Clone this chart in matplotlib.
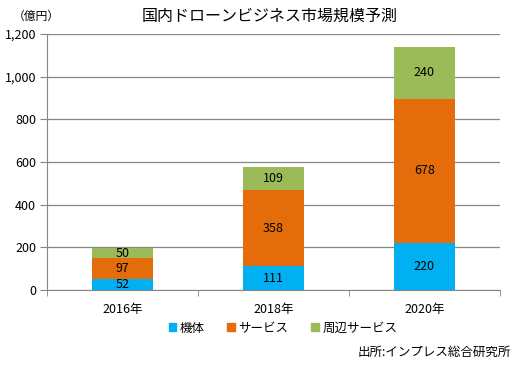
import matplotlib
matplotlib.use("Agg")
import matplotlib.pyplot as plt
from matplotlib.patches import Patch
from matplotlib.ticker import FuncFormatter

plt.rcParams['font.family'] = ['Noto Sans CJK JP', 'DejaVu Sans']

# データ
years = ['2016年', '2018年', '2020年']
kitai = [52, 111, 220]
service = [97, 358, 678]
shuhen = [50, 109, 240]
series_names = ['機体', 'サービス', '周辺サービス']
colors = ['#00B0F0', '#E46C0A', '#9BBB59']

fig = plt.figure(figsize=(5.24, 3.71), dpi=100)
ax = fig.add_axes([0.090, 0.218, 0.864, 0.690])

x = list(range(len(years)))
w = 0.4
bottoms = [0] * len(years)
for vals, col in zip([kitai, service, shuhen], colors):
    bars = ax.bar(x, vals, w, bottom=bottoms, color=col, zorder=3)
    for xi, b, v in zip(x, bottoms, vals):
        ax.text(xi, b + v / 2, str(v), ha='center', va='center',
                fontsize=9, color='#000000', zorder=4)
    bottoms = [b + v for b, v in zip(bottoms, vals)]

ax.set_xlim(-0.5, 2.5)
ax.set_ylim(0, 1200)
ax.set_yticks(range(0, 1201, 200))
ax.yaxis.set_major_formatter(FuncFormatter(lambda v, p: '{:,}'.format(int(v))))
ax.yaxis.grid(True, color='#868686', lw=0.9, zorder=0)

ax.set_xticks(x)
ax.set_xticklabels(years)
ax.set_xticks([-0.5, 0.5, 1.5, 2.5], minor=True)
ax.tick_params(axis='x', which='major', length=0, pad=9, labelsize=9)
ax.tick_params(axis='x', which='minor', length=4, color='#868686')
ax.tick_params(axis='y', length=5, color='#868686', labelsize=9, pad=3)

for s in ['top', 'right']:
    ax.spines[s].set_visible(False)
ax.spines['left'].set_color('#868686')
ax.spines['bottom'].set_color('#868686')

fig.text(0.515, 0.955, '国内ドローンビジネス市場規模予測', ha='center', va='center',
         fontsize=11.5)
fig.text(0.025, 0.955, '（億円）', ha='left', va='center', fontsize=8.5)

handles = [Patch(color=c) for c in colors]
fig.legend(handles, series_names, loc='center', bbox_to_anchor=(0.54, 0.115),
           ncol=3, frameon=False, fontsize=9, handlelength=0.6, handleheight=0.6,
           handletextpad=0.3, columnspacing=1.8)

fig.text(0.975, 0.05, '出所:インプレス総合研究所', ha='right', va='center', fontsize=9)

fig.savefig('out.png', dpi=100)
